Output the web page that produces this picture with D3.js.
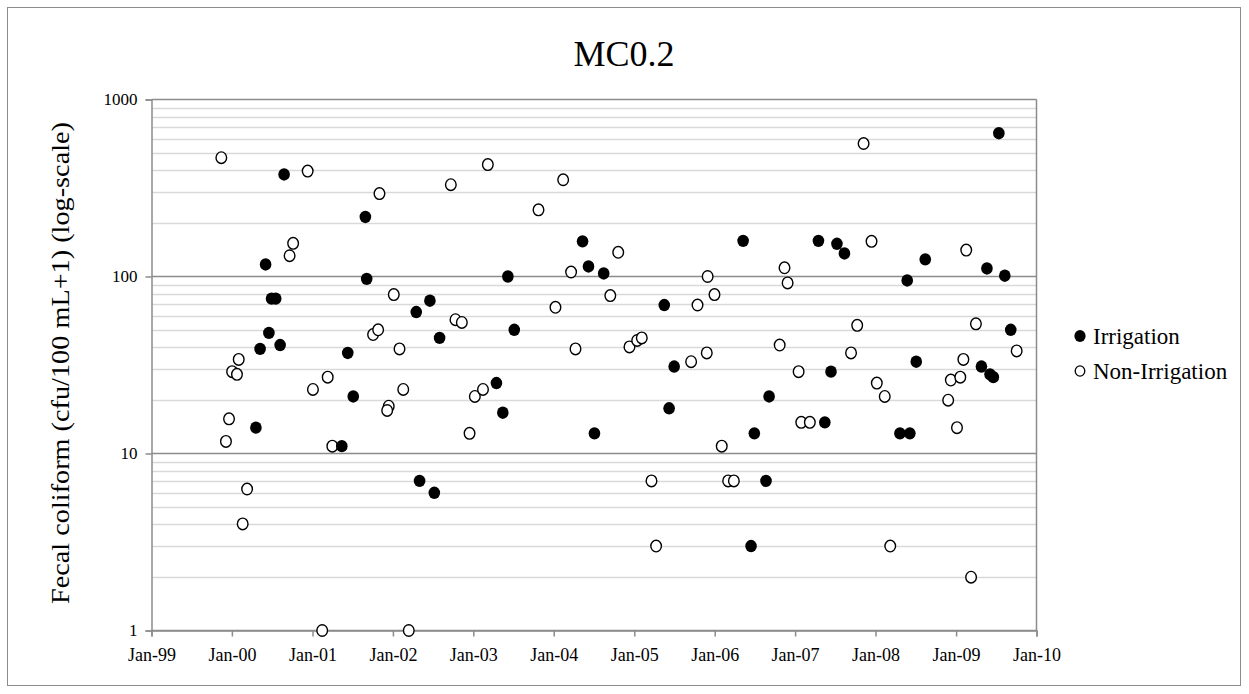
<!DOCTYPE html>
<html>
<head>
<meta charset="utf-8">
<script src="https://cdn.jsdelivr.net/npm/d3@7/dist/d3.min.js"></script>
<style>
  html, body { margin: 0; padding: 0; background: #fff; }
  svg { display: block; }
  text { font-family: "Liberation Serif", "Times New Roman", serif; fill: #000; }
</style>
</head>
<body>
<svg id="chart" width="1249" height="694"></svg>
<script>
// ---- Data ----
const chartTitle = "MC0.2";
const yAxisTitle = "Fecal coliform (cfu/100 mL+1) (log-scale)";
const seriesNames = ["Irrigation", "Non-Irrigation"];

const irrigationDates = [
  "2000-08-25","2001-08-29","2000-06-02","2001-09-04","2002-06-18","2002-04-17",
  "2000-06-29","2000-07-18","2000-06-17","2000-05-08","2000-08-07","2001-06-10",
  "2002-08-01","2001-07-05","2000-04-19","2001-05-14","2002-05-02","2002-07-08",
  "2003-06-07","2004-05-11","2004-06-07","2004-08-15","2005-05-17","2003-07-06",
  "2005-07-01","2003-04-16","2003-05-15","2004-07-04","2005-06-08","2006-05-10",
  "2007-04-17","2007-07-10","2007-08-13","2009-07-14","2008-08-14","2009-05-21",
  "2009-08-10","2008-05-24","2009-09-06","2008-07-04","2009-04-26","2007-06-13",
  "2006-09-05","2006-06-30","2006-06-15","2006-08-22","2007-05-16","2008-04-21",
  "2008-06-05","2009-06-04","2009-06-19"
];
const irrigationValues = [
  377, 217, 117, 97, 73, 63,
  75, 75, 48, 39, 41, 37,
  45, 21, 14, 11, 7, 6,
  100, 158, 114, 104, 69, 50,
  31, 25, 17, 13, 18, 159,
  159, 153, 135, 645, 125, 111,
  101, 95, 50, 33, 31, 29,
  21, 13, 3, 7, 15, 13,
  13, 28, 27
];

const nonIrrigationDates = [
  "1999-11-14","2000-12-10","2001-11-01","2000-10-05","2000-09-19","2002-01-05",
  "2001-10-03","2001-10-26","2002-01-31","2000-02-01","2000-01-02","2000-01-24",
  "2001-01-03","2001-03-11","2001-12-13","2001-12-06","2002-02-17","1999-12-19",
  "1999-12-05","2001-04-01","2000-03-10","2000-02-19","2001-02-14","2002-03-14",
  "2002-09-21","2003-03-08","2004-02-13","2003-10-24","2004-10-20","2004-03-20",
  "2005-11-30","2005-12-31","2005-10-15","2004-09-14","2004-01-09","2002-10-12",
  "2002-11-10","2004-04-09","2004-12-10","2005-01-14","2005-02-04","2005-09-16",
  "2005-11-26","2003-01-08","2003-02-14","2002-12-15","2006-02-02","2005-03-20",
  "2006-03-03","2006-03-29","2005-04-10","2007-11-08","2007-12-14","2009-02-16",
  "2006-11-14","2006-11-28","2007-10-10","2009-04-01","2009-10-03","2006-10-23",
  "2007-09-12","2009-02-03","2007-01-17","2007-01-29","2007-03-09","2008-01-07",
  "2008-02-12","2008-03-08","2008-11-26","2009-01-05","2008-12-08","2009-01-20",
  "2009-03-10"
];
const nonIrrigationValues = [
  469, 394, 294, 154, 131, 79,
  47, 50, 39, 34, 29, 28,
  23, 27, 18.5, 17.5, 23, 15.7,
  11.7, 11, 6.3, 4, 1, 1,
  330, 429, 352, 238, 137, 106,
  100, 79, 69, 78, 67, 57,
  55, 39, 40, 43.5, 45, 33,
  37, 21, 23, 13, 11, 7,
  7, 7, 3, 564, 158, 141,
  112, 92, 53, 54, 38, 41,
  37, 34, 29, 15, 15, 25,
  21, 3, 20, 14, 26, 27,
  2
];

const yTickValues = [1, 10, 100, 1000];
const xTickLabels = ["Jan-99","Jan-00","Jan-01","Jan-02","Jan-03","Jan-04","Jan-05","Jan-06","Jan-07","Jan-08","Jan-09","Jan-10"];

// ---- Layout ----
const svg = d3.select("#chart");
const W = 1249, H = 694;
const plot = { left: 151.5, right: 1036.5, top: 99.5, bottom: 630.5 };

svg.append("rect").attr("x", 0).attr("y", 0).attr("width", W).attr("height", H).attr("fill", "#fff");
svg.append("rect").attr("x", 7.5).attr("y", 7.5).attr("width", 1233).attr("height", 678)
  .attr("fill", "none").attr("stroke", "#8c8c8c").attr("stroke-width", 1);

const parse = d3.timeParse("%Y-%m-%d");
const x = d3.scaleTime()
  .domain([new Date(1999, 0, 1), new Date(2010, 0, 1)])
  .range([plot.left, plot.right]);
const y = d3.scaleLog().domain([1, 1000]).range([plot.bottom, plot.top]);

// minor gridlines
const minor = [];
[1, 10, 100].forEach(d => { for (let k = 2; k <= 9; k++) minor.push(d * k); });
svg.append("g").selectAll("line").data(minor).join("line")
  .attr("x1", plot.left).attr("x2", plot.right)
  .attr("y1", d => Math.round(y(d)) + 0.5).attr("y2", d => Math.round(y(d)) + 0.5)
  .attr("stroke", "#d9d9d9").attr("stroke-width", 1.5);

// major gridlines
svg.append("g").selectAll("line").data(yTickValues).join("line")
  .attr("x1", plot.left).attr("x2", plot.right)
  .attr("y1", d => y(d)).attr("y2", d => y(d))
  .attr("stroke", "#8c8c8c").attr("stroke-width", 1.5);

// plot border right
svg.append("line").attr("x1", plot.right).attr("x2", plot.right)
  .attr("y1", plot.top).attr("y2", plot.bottom).attr("stroke", "#8c8c8c").attr("stroke-width", 1.5);

// Y axis
const yAxis = d3.axisLeft(y).tickValues(yTickValues).tickFormat(d3.format("d")).tickSize(6).tickPadding(8);
const gy = svg.append("g").attr("transform", `translate(${plot.left},0)`).call(yAxis);
gy.select(".domain").attr("stroke", "#8c8c8c").attr("stroke-width", 1.5);
gy.selectAll(".tick line").attr("stroke", "#8c8c8c").attr("stroke-width", 1.5);
gy.selectAll(".tick text").style("font-family", "Liberation Serif").style("font-size", "17px").attr("fill", "#000");

// X axis
const xTicks = xTickLabels.map((s, i) => new Date(1999 + i, 0, 1));
const xAxis = d3.axisBottom(x).tickValues(xTicks).tickFormat((d, i) => xTickLabels[i]).tickSize(6).tickPadding(12);
const gx = svg.append("g").attr("transform", `translate(0,${plot.bottom})`).call(xAxis);
gx.select(".domain").attr("stroke", "#8c8c8c").attr("stroke-width", 1.5);
gx.selectAll(".tick line").attr("stroke", "#8c8c8c").attr("stroke-width", 1.5);
gx.selectAll(".tick text").style("font-family", "Liberation Serif").style("font-size", "18px").attr("fill", "#000");

// Points
const irr = irrigationDates.map((d, i) => ({ date: parse(d), value: irrigationValues[i] }));
const non = nonIrrigationDates.map((d, i) => ({ date: parse(d), value: nonIrrigationValues[i] }));

svg.append("g").selectAll("ellipse").data(non).join("ellipse")
  .attr("cx", d => x(d.date)).attr("cy", d => y(d.value))
  .attr("rx", 5.3).attr("ry", 5.8)
  .attr("fill", "#fff").attr("stroke", "#000").attr("stroke-width", 1.4);

svg.append("g").selectAll("ellipse").data(irr).join("ellipse")
  .attr("cx", d => x(d.date)).attr("cy", d => y(d.value))
  .attr("rx", 5.8).attr("ry", 6.2)
  .attr("fill", "#000");

// Title
svg.append("text").attr("x", 624).attr("y", 66).attr("text-anchor", "middle")
  .style("font-size", "36px").text(chartTitle);

// Y axis title
svg.append("text").attr("transform", `translate(69,${(plot.top + plot.bottom) / 2 - 2}) rotate(-90)`)
  .attr("text-anchor", "middle").style("font-size", "26px")
  .attr("textLength", 482).attr("lengthAdjust", "spacingAndGlyphs").text(yAxisTitle);

// Legend
const legend = svg.append("g");
const legY = [336, 371];
const legX = 1080;
legend.append("ellipse").attr("cx", legX).attr("cy", legY[0]).attr("rx", 5.6).attr("ry", 6).attr("fill", "#000");
legend.append("ellipse").attr("cx", legX).attr("cy", legY[1]).attr("rx", 4.8).attr("ry", 5.2)
  .attr("fill", "#fff").attr("stroke", "#000").attr("stroke-width", 1.3);
seriesNames.forEach((n, i) => {
  legend.append("text").attr("x", legX + 13).attr("y", legY[i] + 8).style("font-size", "23px").text(n);
});
</script>
</body>
</html>
